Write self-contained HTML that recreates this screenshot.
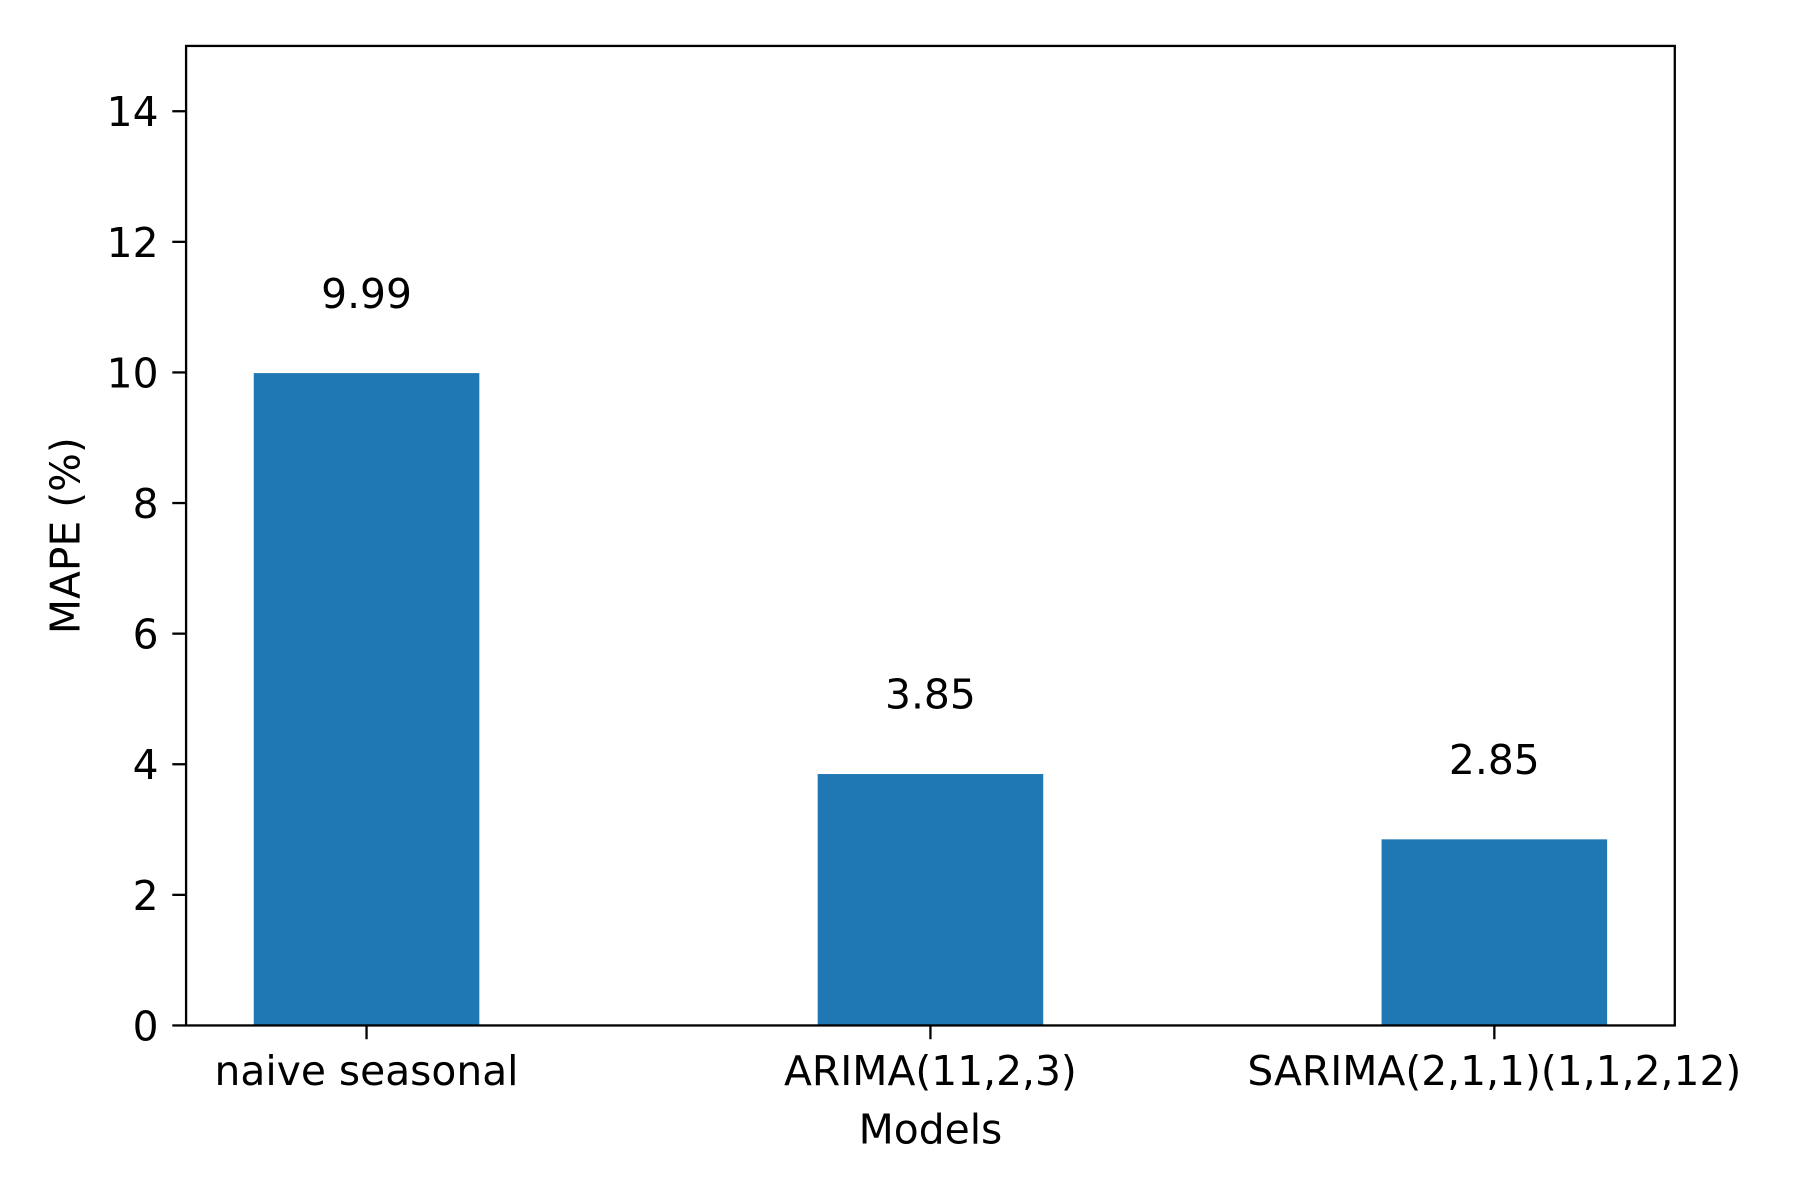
<!DOCTYPE html>
<html><head><meta charset="utf-8"><style>
html,body{margin:0;padding:0;background:#fff;}
svg{display:block;font-family:"DejaVu Sans","Liberation Sans",sans-serif;}
</style></head><body>
<svg id="chart" width="1800" height="1200" viewBox="0 0 1567 1045" preserveAspectRatio="none" xmlns="http://www.w3.org/2000/svg">
<rect width="1567" height="1045" fill="#fff"/>
<g id="plot"></g>
</svg>
<script>
const categories = ["naive seasonal", "ARIMA(11,2,3)", "SARIMA(2,1,1)(1,1,2,12)"];
const values = [9.99, 3.85, 2.85];
const valueLabels = ["9.99", "3.85", "2.85"];
const yTicks = [0, 2, 4, 6, 8, 10, 12, 14];

const L = 162, R = 1458, T = 40, B = 893;
const yMin = 0, yMax = 15, xMin = -0.32, xMax = 2.32, barW = 0.4;
const FS = 35.5;
const sx = v => L + (v - xMin) / (xMax - xMin) * (R - L);
const sy = v => B - (v - yMin) / (yMax - yMin) * (B - T);
const NS = "http://www.w3.org/2000/svg";
const g = document.getElementById("plot");
function mk(tag, attrs, parent) {
  const e = document.createElementNS(NS, tag);
  for (const k in attrs) e.setAttribute(k, attrs[k]);
  (parent || g).appendChild(e);
  return e;
}
values.forEach((v, i) => {
  const r = mk("rect", {x: sx(i - barW / 2), y: sy(v), width: sx(barW) - sx(0), height: sy(0) - sy(v), fill: "#1f77b4"});
  
  
  const t = mk("text", {x: sx(i), y: sy(v + 1), "text-anchor": "middle", "font-size": FS, fill: "#000"});
  t.textContent = valueLabels[i];
  
  
  mk("line", {x1: sx(i), x2: sx(i), y1: B, y2: B + 12, stroke: "#000", "stroke-width": 2});
  const c = mk("text", {x: sx(i), y: B + 52, "text-anchor": "middle", "font-size": FS, fill: "#000"});
  c.textContent = categories[i];
  
  
});
yTicks.forEach(v => {
  mk("line", {x1: L - 12, x2: L, y1: sy(v), y2: sy(v), stroke: "#000", "stroke-width": 2});
  const t = mk("text", {x: L - 24, y: sy(v) + 13, "text-anchor": "end", "font-size": FS, fill: "#000"});
  t.textContent = v;
  
  
});
const frame = mk("rect", {x: L, y: T, width: R - L, height: B - T, fill: "none", stroke: "#000", "stroke-width": 2});


const xt = mk("text", {x: (L + R) / 2, y: 996, "text-anchor": "middle", "font-size": FS, fill: "#000"});
xt.textContent = "Models";


const yt = mk("text", {x: 0, y: 0, transform: "translate(69," + ((T + B) / 2) + ") rotate(-90)", "text-anchor": "middle", "font-size": FS, fill: "#000"});
yt.textContent = "MAPE (%)";


</script>
</body></html>
